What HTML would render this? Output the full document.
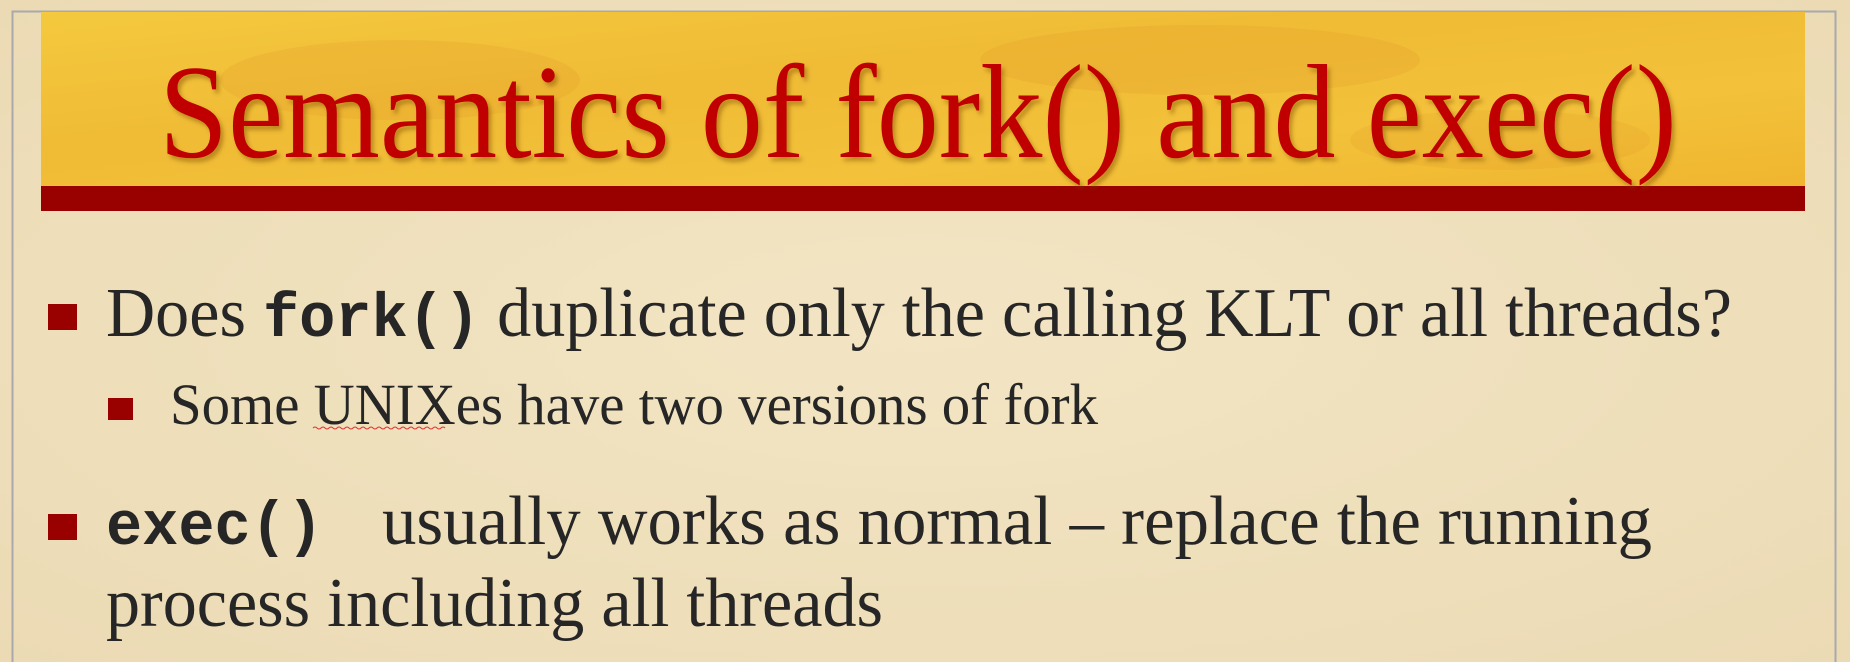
<!DOCTYPE html>
<html><head><meta charset="utf-8"><style>
html,body{margin:0;padding:0;width:1850px;height:662px;overflow:hidden;background:#efe0bd;}
svg{display:block;}
</style></head><body>
<svg width="1850" height="662" xmlns="http://www.w3.org/2000/svg">
<defs>
<radialGradient id="bg" cx="50%" cy="50%" r="80%">
<stop offset="0" stop-color="#f3e5c4"/><stop offset="1" stop-color="#ead9b2"/>
</radialGradient>
<linearGradient id="ban" x1="0" y1="0" x2="1" y2="1">
<stop offset="0" stop-color="#f4c93e"/><stop offset="0.4" stop-color="#f0bb35"/>
<stop offset="0.7" stop-color="#f3c23a"/><stop offset="1" stop-color="#f0b52f"/>
</linearGradient>
<filter id="sh"><feDropShadow dx="3" dy="4" stdDeviation="2" flood-color="#7a4a00" flood-opacity="0.45"/></filter>
</defs>
<rect width="1850" height="662" fill="url(#bg)"/>
<path d="M12.5 662 V11.5 H1835.5 V662" fill="none" stroke="#a9a9ad" stroke-width="2"/>
<rect x="41" y="12" width="1764" height="175" fill="url(#ban)"/>
<ellipse cx="400" cy="80" rx="180" ry="40" fill="#e29a2a" opacity="0.25"/>
<ellipse cx="1200" cy="60" rx="220" ry="35" fill="#e29a2a" opacity="0.25"/>
<ellipse cx="1500" cy="140" rx="150" ry="30" fill="#e29a2a" opacity="0.2"/>
<rect x="41" y="186" width="1764" height="25" fill="#990000"/>
<text x="159" y="157" font-family="Liberation Serif, serif" font-size="134" fill="#c00000" textLength="1518" lengthAdjust="spacingAndGlyphs" filter="url(#sh)">Semantics of fork() and exec()</text>

<rect x="48" y="304" width="29" height="26" fill="#990000"/>
<text x="106" y="336" font-family="Liberation Serif, serif" font-size="70" fill="#262626" textLength="1626" lengthAdjust="spacingAndGlyphs">Does <tspan font-family="Liberation Mono, monospace" font-weight="bold" font-size="62">fork()</tspan> duplicate only the calling KLT or all threads?</text>

<rect x="108" y="398" width="25" height="22" fill="#990000"/>
<text x="170" y="424" font-family="Liberation Serif, serif" font-size="58" fill="#262626" textLength="928" lengthAdjust="spacingAndGlyphs">Some UNIXes have two versions of fork</text>
<path d="M313 428 q2 -2 4 0 t4 0 t4 0 t4 0 t4 0 t4 0 t4 0 t4 0 t4 0 t4 0 t4 0 t4 0 t4 0 t4 0 t4 0 t4 0 t4 0 t4 0 t4 0 t4 0 t4 0 t4 0 t4 0 t4 0 t4 0 t4 0 t4 0 t4 0 t4 0 t4 0 t4 0 t4 0 t4 0" fill="none" stroke="#e03030" stroke-width="1"/>

<rect x="48" y="514" width="29" height="26" fill="#990000"/>
<text x="106" y="544" font-family="Liberation Mono, monospace" font-weight="bold" font-size="62" fill="#262626" textLength="217" lengthAdjust="spacingAndGlyphs">exec()</text>
<text x="382" y="544" font-family="Liberation Serif, serif" font-size="70" fill="#262626" textLength="1270" lengthAdjust="spacingAndGlyphs">usually works as normal – replace the running</text>
<text x="106" y="626" font-family="Liberation Serif, serif" font-size="70" fill="#262626" textLength="777" lengthAdjust="spacingAndGlyphs">process including all threads</text>
</svg>
</body></html>
